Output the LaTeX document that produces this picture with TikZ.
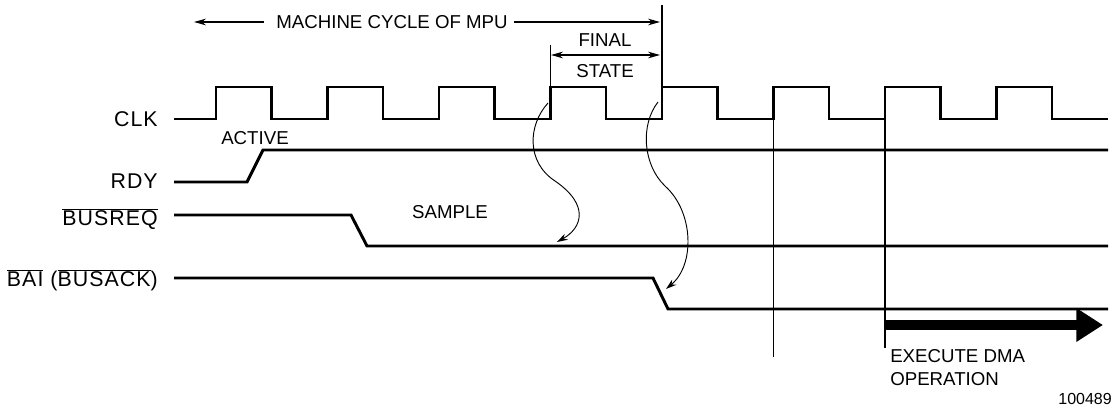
\documentclass[tikz,border=0pt]{standalone}
\usepackage{fontspec}
\setmainfont{Liberation Sans}
\newfontfamily\senalfont[LetterSpace=5]{Liberation Sans}
\usetikzlibrary{arrows.meta}

\begin{document}
\begin{tikzpicture}[
    x=0.75pt, y=-0.75pt,
    % --- SEÑALES: trazo grueso ---
    senal/.style={line width=2.2pt, line join=miter},
    % --- MARCAS: líneas finas verticales ---
    marca/.style={line width=0.8pt},
    flechaCota/.style={line width=0.8pt, {Stealth[length=9pt,width=5pt]}-{Stealth[length=9pt,width=5pt]}},
    flechaMuestreo/.style={line width=0.7pt, -{Stealth[length=8pt,width=5pt]}},
    flechaDMA/.style={line width=7.5pt, -{Triangle[length=20pt,width=24pt]}},
    etiqueta/.style={font=\senalfont\fontsize{16}{18}\selectfont, inner sep=0pt, anchor=east},
    nota/.style={font=\fontsize{14}{16}\selectfont, inner sep=0pt}
]
    \useasboundingbox (0,0) rectangle (1119,413);

    % --- NOMBRES DE LAS SEÑALES ---
    \node[etiqueta] (lclk) at (158,119) {CLK};
    \node[etiqueta] (lrdy) at (158,181) {RDY};
    \node[etiqueta] (lreq) at (158,219) {$\overline{\mbox{BUSREQ}}$};
    \node[etiqueta] (lack) at (158,280) {$\overline{\mbox{BAI}}$ ($\overline{\mbox{BUSACK}}$)};

    % --- PUNTOS DE LAS FORMAS DE ONDA ---
    \coordinate (clkIni) at (174,119);
    \coordinate (clkFin) at (1108,119);
    \coordinate (rdyIni) at (174,182);
    \coordinate (rdyFin) at (1108,150);
    \coordinate (reqIni) at (174,215);
    \coordinate (reqFin) at (1108,246);
    \coordinate (ackIni) at (174,278);
    \coordinate (ackFin) at (1108,309);

    % --- CLK ---
    \draw[senal] (clkIni)
        \foreach \k in {0,...,7} {
            -- ({216+111.5*\k},119) -- ({216+111.5*\k},87)
            -- ({271.5+111.5*\k},87) -- ({271.5+111.5*\k},119)
        } -- (clkFin);

    % --- RDY, BUSREQ, BAI ---
    \draw[senal] (rdyIni) -- (247,182) -- (263,150) -- (rdyFin);
    \draw[senal] (reqIni) -- (351,215) -- (367,246) -- (reqFin);
    \draw[senal] (ackIni) -- (653,278) -- (668,309) -- (ackFin);

    % --- COTAS SUPERIORES ---
    \coordinate (cicloIni) at (194,22);
    \coordinate (cicloFin) at (660,22);
    \coordinate (finalIni) at (551,55);
    \coordinate (finalFin) at (660,55);
    \node[nota] (ciclo) at (392,22) {MACHINE CYCLE OF MPU};
    \draw[flechaCota, {Stealth[length=9pt,width=5pt]}-] (cicloIni) -- (ciclo.west -| 264,22);
    \draw[flechaCota, -{Stealth[length=9pt,width=5pt]}] (ciclo.east -| 514,22) -- (cicloFin);
    \node[nota] (final) at (605,40) {FINAL};
    \node[nota] (estado) at (605,71) {STATE};
    \draw[flechaCota] (finalIni) -- (finalFin);

    % --- LÍNEAS VERTICALES ---
    \draw[marca] (550.5,45) -- (550.5,119);
    \draw[marca] (662,5) -- (662,119);
    \draw[marca] (773.5,119) -- (773.5,357);
    \draw[marca] (885,119) -- (885,348);

    % --- MUESTREO ---
    \node[nota] (activo) at (255,138) {ACTIVE};
    \node[nota] (muestra) at (450,212) {SAMPLE};
    \coordinate (m1a) at (548,103);
    \coordinate (m1b) at (557,242);
    \coordinate (m2a) at (658,102);
    \coordinate (m2b) at (666,289);
    \draw[flechaMuestreo] (m1a) .. controls (528,125) and (526,162) .. (555,181)
        .. controls (590,205) and (582,228) .. (m1b);
    \draw[flechaMuestreo] (m2a) .. controls (640,125) and (643,165) .. (665,186)
        .. controls (694,212) and (695,265) .. (m2b);

    % --- OPERACIÓN DMA ---
    \coordinate (dmaIni) at (885,325);
    \coordinate (dmaFin) at (1103,325);
    \draw[flechaDMA] (dmaIni) -- (dmaFin);
    \node[nota, anchor=west] (dma1) at (890,356) {EXECUTE DMA};
    \node[nota, anchor=west] (dma2) at (890,379) {OPERATION};
    \node[nota, anchor=east, font=\fontsize{12}{14}\selectfont] (codigo) at (1112,399) {100489};

\end{tikzpicture}
\end{document}
